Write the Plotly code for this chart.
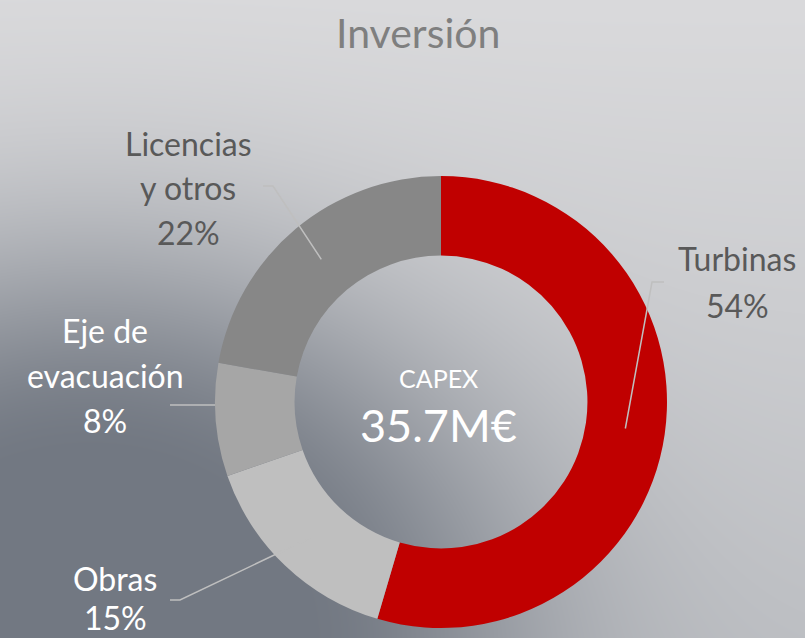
import base64, struct, zlib
import numpy as np
import plotly.graph_objects as go

# ---- data ----
labels = ["Turbinas", "Obras", "Eje de evacuación", "Licencias y otros"]
label_lines = [["Turbinas", "54%"], ["Obras", "15%"], ["Eje de", "evacuación", "8%"], ["Licencias", "y otros", "22%"]]
values = [54, 15, 8, 22]
colors = ["#C00000", "#BFBFBF", "#A6A6A6", "#878787"]
title_text = "Inversión"
center_label = "CAPEX"
center_value = "35.7M€"

W, H = 805, 638

# ---- background gradient image (stdlib PNG) ----
yy, xx = np.mgrid[0:H, 0:W].astype(float)
d = np.hypot((xx - 90) * 1.0, (yy - 640) * 1.15)
t = np.exp(-((np.clip(d - 200, 0, None)) / 250) ** 2)
top = np.array([0xDA, 0xDA, 0xDC], float)
bot = np.array([0xBE, 0xC0, 0xC4], float)
light = top + (bot - top) * (yy[..., None] / H)
dark = np.array([0x72, 0x78, 0x82], float)
img = light + (dark - light) * t[..., None]
img = np.clip(img, 0, 255).astype(np.uint8)

def png_bytes(arr):
    h, w, _ = arr.shape
    raw = b"".join(b"\x00" + arr[r].tobytes() for r in range(h))
    def chunk(tag, data):
        c = struct.pack(">I", len(data)) + tag + data
        return c + struct.pack(">I", zlib.crc32(tag + data) & 0xFFFFFFFF)
    return (b"\x89PNG\r\n\x1a\n" + chunk(b"IHDR", struct.pack(">IIBBBBB", w, h, 8, 2, 0, 0, 0))
            + chunk(b"IDAT", zlib.compress(raw, 9)) + chunk(b"IEND", b""))

bg_src = "data:image/png;base64," + base64.b64encode(png_bytes(img)).decode()

def px(x, y):
    return x / W, 1 - y / H

# ---- donut geometry (pixels) ----
cx, cy, R, hole = 441, 402, 226, 0.648
dom_x = [(cx - R) / W, (cx + R) / W]
dom_y = [1 - (cy + R) / H, 1 - (cy - R) / H]

fig = go.Figure(go.Pie(
    labels=labels, values=values, sort=False, direction="clockwise", rotation=0,
    hole=hole, marker=dict(colors=colors, line=dict(width=0)),
    textinfo="none", hoverinfo="label+percent", showlegend=False,
    domain=dict(x=dom_x, y=dom_y),
))

FONT = "Lato, 'Open Sans', sans-serif"
ann = []
def add_text(x, y, text, size, color):
    ax, ay = px(x, y)
    ann.append(dict(x=ax, y=ay, xref="paper", yref="paper", text=text, showarrow=False,
                    xanchor="center", yanchor="middle", font=dict(family=FONT, size=size, color=color)))

add_text(418, 33, title_text, 41, "#7F7F7F")
add_text(438, 378, center_label, 25, "#FFFFFF")
add_text(438, 425, center_value, 45, "#FFFFFF")

label_pos = {"Turbinas": (737, [259, 305]), "Obras": (115, [578, 617]),
             "Eje de evacuación": (105, [330, 375, 420]), "Licencias y otros": (188, [143, 187, 232])}
label_col = {"Turbinas": "#595959", "Licencias y otros": "#595959",
             "Obras": "#FFFFFF", "Eje de evacuación": "#FFFFFF"}
for lab, lines in zip(labels, label_lines):
    x, ys = label_pos[lab]
    for ln, y in zip(lines, ys):
        add_text(x, y, ln, 32, label_col[lab])

# ---- leader lines from slice mid-angles ----
total = sum(values)
cum = np.cumsum([0] + values[:-1]) / total
mid = cum + np.array(values) / total / 2
rm = R * (1 + hole) / 2
def slice_pt(i):
    a = 2 * np.pi * mid[i]
    return cx + rm * np.sin(a), cy - rm * np.cos(a)

elbows = {"Turbinas": [(664, 282), (652, 282)], "Licencias y otros": [(263, 186), (273, 186)],
          "Obras": [(170, 600), (180, 600)]}
shapes = []
def path(points):
    pts = [px(x, y) for x, y in points]
    p = "M " + " L ".join(f"{a:.5f},{b:.5f}" for a, b in pts)
    shapes.append(dict(type="path", path=p, xref="paper", yref="paper",
                       line=dict(color="#BFBFBF", width=1.5)))
for i, lab in enumerate(labels):
    if lab in elbows:
        path(elbows[lab] + [slice_pt(i)])
# Eje de evacuación: horizontal to the ring's outer edge
ey = 405
path([(170, ey), (cx - np.sqrt(R ** 2 - (ey - cy) ** 2), ey)])

fig.update_layout(
    width=W, height=H, margin=dict(l=0, r=0, t=0, b=0),
    paper_bgcolor="#C8C9CC", plot_bgcolor="rgba(0,0,0,0)",
    annotations=ann, shapes=shapes,
    images=[dict(source=bg_src, xref="paper", yref="paper", x=0, y=1, sizex=1, sizey=1,
                 xanchor="left", yanchor="top", sizing="stretch", layer="below")],
)
fig.write_html("out.html", config={"displayModeBar": False},
               post_script="document.body.style.margin='0px';document.body.style.overflow='hidden';")
